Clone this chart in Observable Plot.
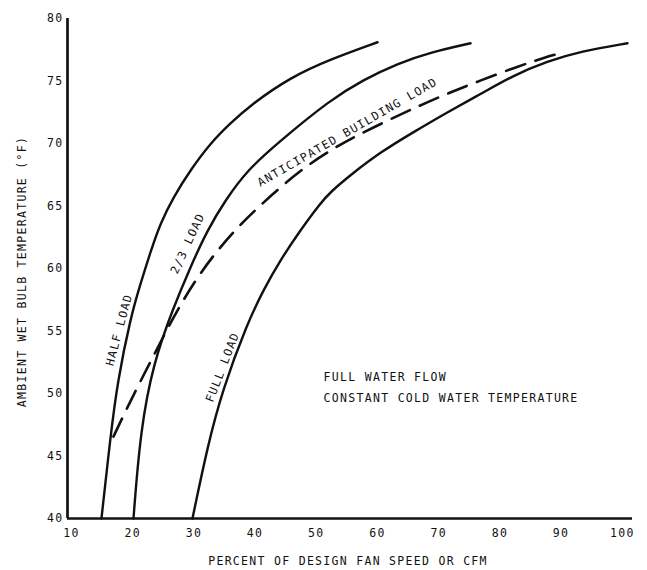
<!DOCTYPE html>
<html>
<head>
<meta charset="utf-8">
<script src="https://cdn.jsdelivr.net/npm/d3@7"></script>
<script src="https://cdn.jsdelivr.net/npm/@observablehq/plot@0.6"></script>
<style>
  html, body { margin: 0; padding: 0; background: #fff; }
  svg text { font-family: "DejaVu Sans Mono", "Liberation Mono", monospace; letter-spacing: 1.3px; }
</style>
</head>
<body>
<div id="chart"></div>
<script>
// Tick labels
const xTicks = [10, 20, 30, 40, 50, 60, 70, 80, 90, 100];
const yTicks = [40, 45, 50, 55, 60, 65, 70, 75, 80];

// Curves: [percent fan speed, wet bulb °F]
const halfLoad = [[14.9,40],[16.37,46.55],[17.52,50.94],[19.64,56.05],[21.27,58.77],[22.91,61.33],[24.54,63.64],[26.67,65.72],[29.44,67.88],[32.71,70.03],[35.98,71.63],[39.25,73.07],[45.78,75.3],[52.32,76.74],[60,78.1]];
const twoThirdsLoad = [[20.13,40],[21.27,47.11],[23.4,52.46],[26.5,56.69],[29.44,60.13],[32.22,63.08],[35.16,65.48],[38.76,67.88],[43.66,70.03],[52.3,73.5],[57.7,75.1],[63.3,76.4],[68.7,77.3],[75.2,78.02]];
const fullLoad = [[29.77,40],[32.22,45.75],[34.67,50.3],[38.76,55.65],[41.37,58.29],[44.15,60.69],[47.42,63.08],[50.69,65.24],[52.32,66.12],[55.59,67.48],[60.49,69.31],[65.88,70.91],[71.44,72.51],[76.83,73.95],[82.22,75.46],[87.78,76.58],[93.17,77.38],[100.85,78.02]];
const buildingLoad = [[16.86,46.55],[19.64,49.42],[23.24,52.86],[26.83,56.29],[30.26,59.09],[33.86,61.49],[38.1,63.8],[42.52,65.8],[47.42,67.88],[52.32,69.47],[56.41,70.59],[61.8,71.87],[66.7,72.99],[71.6,74.03],[76.5,74.98],[82.55,76.1],[87.45,76.9],[89.9,77.22]];

// Labels
const curveLabels = [
  {text: "HALF LOAD", x: 17.8, y: 55.1, angle: -75},
  {text: "2/3 LOAD", x: 29.0, y: 62.0, angle: -65},
  {text: "FULL LOAD", x: 34.7, y: 52.1, angle: -69},
  {text: "ANTICIPATED BUILDING LOAD", x: 55.1, y: 70.9, angle: -30}
];
const notes = [
  {text: "FULL WATER FLOW", x: 51.2, y: 51.3},
  {text: "CONSTANT COLD WATER TEMPERATURE", x: 51.2, y: 49.6}
];
const xTitle = "PERCENT OF DESIGN FAN SPEED OR CFM";
const yTitle = "AMBIENT WET BULB TEMPERATURE (°F)";

const xDomain = [9.35, 101.67];
const yDomain = [40, 80];

const solid = [halfLoad, twoThirdsLoad, fullLoad];

const chart = Plot.plot({
  width: 647,
  height: 570,
  marginLeft: 67,
  marginRight: 15,
  marginTop: 18,
  marginBottom: 52,
  style: {fontSize: "11.5px", color: "#111", background: "#fff"},
  x: {domain: xDomain},
  y: {domain: yDomain},
  marks: [
    Plot.axisX({ticks: xTicks, tickSize: 0, tickPadding: 10, label: null, fontSize: 11.5}),
    Plot.axisY({ticks: yTicks, tickSize: 0, tickPadding: 4, label: null, fontSize: 11.5}),
    Plot.ruleX([xDomain[0]], {stroke: "#111", strokeWidth: 2.7}),
    Plot.ruleY([yDomain[0]], {stroke: "#111", strokeWidth: 2.7}),
    ...solid.map(pts => Plot.line(pts, {x: d => d[0], y: d => d[1], curve: "basis", stroke: "#111", strokeWidth: 2.4})),
    Plot.line(buildingLoad, {x: d => d[0], y: d => d[1], curve: "basis", stroke: "#111", strokeWidth: 2.6, strokeDasharray: "20,11"}),
    ...curveLabels.map(l => Plot.text([l], {x: "x", y: "y", text: "text", rotate: l.angle, fontSize: 11.5, fill: "#111"})),
    Plot.text(notes, {x: "x", y: "y", text: "text", textAnchor: "start", fontSize: 11.5, fill: "#111"}),
    Plot.text([xTitle], {frameAnchor: "bottom", textAnchor: "middle", lineAnchor: "middle", dx: -2, dy: 43, fontSize: 11.5, fill: "#111"}),
    Plot.text([yTitle], {frameAnchor: "left", textAnchor: "middle", lineAnchor: "middle", dx: -45, dy: 3, rotate: -90, fontSize: 11.5, fill: "#111"})
  ]
});
document.getElementById("chart").appendChild(chart);
</script>
</body>
</html>
